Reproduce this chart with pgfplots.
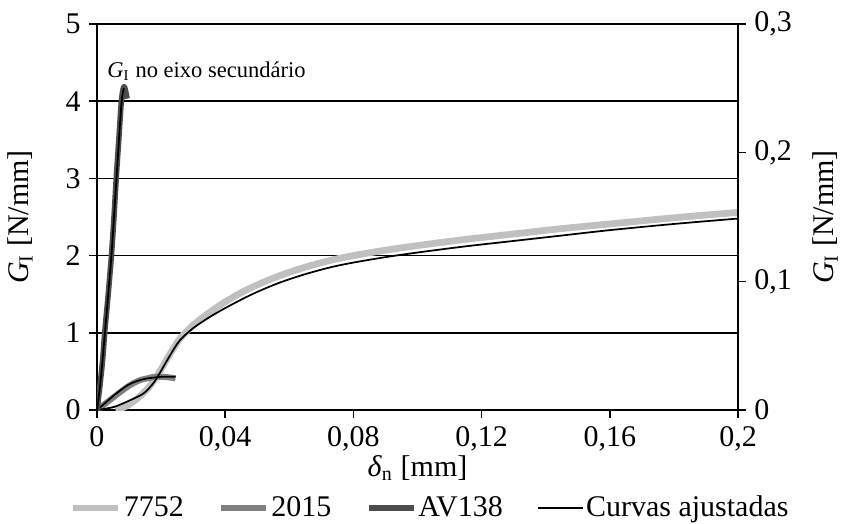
\documentclass[border=0pt]{standalone}
\usepackage{fontspec}
\setmainfont{Liberation Serif}
\usepackage{pgfplots}
\pgfplotsset{compat=1.18}

\definecolor{c7752}{HTML}{C0C0C0}
\definecolor{c2015}{HTML}{808080}
\definecolor{cav}{HTML}{4D4D4D}

\pgfplotsset{
  common/.style={
    scale only axis, width=256.4pt, height=154.4pt,
    xmin=0, xmax=0.2,
    tick align=outside, major tick length=3pt,
    axis line style={line width=0.6pt},
    every tick/.style={black, line width=0.6pt},
    tick label style={font=\fontsize{12}{14}\selectfont},
    label style={font=\fontsize{12}{14}\selectfont},
    /pgf/number format/use comma,
    /pgf/number format/assume math mode=true,
  },
}

\begin{document}
\begin{tikzpicture}
\path[use as bounding box] (-38.8pt,-45.2pt) rectangle (298pt,164pt);

\begin{axis}[common,
  ymin=0, ymax=5, ytick={0,1,2,3,4,5},
  xtick={0,0.04,0.08,0.12,0.16,0.2},
  scaled x ticks=false,
  xticklabel style={/pgf/number format/fixed},
  axis x line*=bottom, axis y line*=left,
  ymajorgrids, grid style={black, line width=0.6pt},
  xlabel={\textit{δ}\textsubscript{n} [mm]},
  xlabel style={at={(axis description cs:0.5,-0.150)}, anchor=center},
  ylabel={\textit{G}\textsubscript{I} [N/mm]},
  ylabel style={at={(axis description cs:-0.120,0.5)}, anchor=center},
  legend columns=-1,
  legend style={draw=none, fill=none, at={(0.52,-0.254)}, anchor=center,
    font=\fontsize{12}{14}\selectfont, nodes={inner sep=0.8pt},
    /tikz/every even column/.append style={column sep=13pt}},
  legend image code/.code={\draw[#1] (0pt,0pt) -- (18pt,0pt);},
]
% 7752
\addplot[c7752, line width=2.7pt, smooth, line join=round] coordinates {
(0.0058,0) (0.008,0.03) (0.010,0.07) (0.0126,0.15) (0.0147,0.23)
(0.0167,0.32) (0.0193,0.48) (0.0214,0.63) (0.024,0.81) (0.026,0.93)
(0.030,1.10) (0.035,1.26) (0.040,1.40) (0.045,1.52) (0.050,1.62)
(0.057,1.74) (0.065,1.85) (0.073,1.94) (0.080,2.00) (0.090,2.07)
(0.100,2.13) (0.115,2.21) (0.130,2.28) (0.145,2.35) (0.160,2.41)
(0.180,2.49) (0.200,2.56)};
\addlegendentry{7752}
% 2015
\addplot[c2015, line width=2.4pt, smooth, line join=round] coordinates {
(0,0) (0.0025,0.08) (0.0053,0.17) (0.0075,0.24) (0.0095,0.30)
(0.0115,0.35) (0.0136,0.39) (0.0157,0.41) (0.0178,0.43) (0.020,0.43)
(0.022,0.425) (0.0245,0.41)};
\addlegendentry{2015}
\addlegendimage{cav, line width=2.2pt}
\addlegendentry{AV138}
% curvas ajustadas
\addplot[black, line width=0.7pt, smooth] coordinates {
(0,0) (0.0053,0.04) (0.0105,0.13) (0.0147,0.22) (0.0178,0.36)
(0.0199,0.50) (0.0214,0.61) (0.024,0.79) (0.026,0.91) (0.030,1.06)
(0.035,1.20) (0.040,1.32) (0.045,1.43) (0.050,1.53) (0.057,1.65)
(0.065,1.76) (0.073,1.85) (0.080,1.91) (0.090,1.98) (0.100,2.04)
(0.115,2.12) (0.130,2.19) (0.145,2.26) (0.160,2.33) (0.180,2.41)
(0.200,2.48)};
\addlegendentry{Curvas ajustadas}
\addplot[black, line width=0.7pt, smooth, forget plot] coordinates {
(0,0) (0.0025,0.09) (0.0053,0.19) (0.0075,0.26) (0.0095,0.32)
(0.0115,0.36) (0.0136,0.39) (0.0157,0.41) (0.0178,0.42) (0.020,0.43)
(0.022,0.43) (0.0245,0.43)};

\node[anchor=west, inner sep=0, font=\fontsize{9}{11}\selectfont]
  at (axis cs:0.0031,4.39) {\textit{G}\textsubscript{I} no eixo secundário};
\end{axis}

\begin{axis}[common,
  ymin=0, ymax=0.3, ytick={0,0.1,0.2,0.3},
  yticklabel style={/pgf/number format/fixed},
  axis y line*=right, axis x line=none,
  ylabel={\textit{G}\textsubscript{I} [N/mm]},
  ylabel style={at={(axis description cs:1.136,0.5)}, anchor=center, rotate=0},
]
\addplot[cav, line width=2.2pt, smooth, line join=round] coordinates {
(0,0) (0.0005,0.01) (0.0011,0.023) (0.0018,0.04) (0.0024,0.06)
(0.0035,0.09) (0.0045,0.12) (0.0053,0.15) (0.006,0.18) (0.0068,0.21)
(0.0076,0.24) (0.0082,0.25) (0.0086,0.251) (0.0090,0.247) (0.0094,0.242)};
\addplot[black, line width=0.7pt, smooth] coordinates {
(0,0) (0.0011,0.022) (0.0024,0.058) (0.0035,0.09) (0.0045,0.12)
(0.006,0.177) (0.0076,0.237) (0.0084,0.25)};
\end{axis}
\end{tikzpicture}
\end{document}
